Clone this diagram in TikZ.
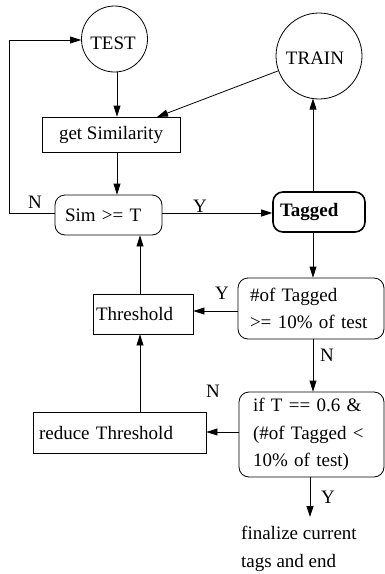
\documentclass[tikz,border=0pt]{standalone}
\usepackage{fontspec}
\setmainfont{Liberation Serif}
\usetikzlibrary{arrows.meta,calc}
\begin{document}
\begin{tikzpicture}[x=1pt,y=-1pt,
  every node/.style={font=\fontsize{19}{27.5}\selectfont},
  circ/.style={draw,circle,inner sep=0pt,line width=0.8pt},
  box/.style={draw,rectangle,inner ysep=0pt,line width=0.8pt,align=left},
  rbox/.style={box,rounded corners=10pt},
  arr/.style={-{Triangle[length=11pt,width=7pt]},line width=0.8pt},
  lbl/.style={inner sep=0pt}]
\useasboundingbox (0,0) rectangle (385,574);
% nodes
\node[circ,minimum size=66pt] (test) at (114.5,39) {};
\node at (113,43) (testtxt) {TEST};
\node[circ,minimum size=86pt] (train) at (319,56) {};
\node at (315,58) (traintxt) {TRAIN};
\node[box,minimum width=138pt,minimum height=35pt,inner xsep=0pt,align=center] (gs) at (111,134.5) {get Similarity};
\node[rbox,text width=87pt,inner xsep=10pt,minimum height=40pt] (sim) at (108.5,215) {Sim >= T};
\node[rbox,text width=78pt,inner xsep=7pt,minimum height=40pt,line width=1.6pt,font=\fontsize{19}{27.5}\selectfont\bfseries] (tagged) at (319,212) {Tagged};
\node[rbox,text width=122pt,inner xsep=12pt,minimum height=61pt] (num) at (311,308.5) {\#of Tagged\\>= 10\% of test};
\node[box,text width=94pt,inner xsep=3pt,minimum height=40pt] (thr) at (143,314) {Threshold};
\node[rbox,text width=117pt,inner xsep=14pt,minimum height=85pt] (ift) at (311.5,434.5) {if T == 0.6 \&\\(\#of Tagged <\\10\% of test)};
\node[box,text width=161pt,inner xsep=6pt,minimum height=41pt] (red) at (119.5,432.5) {reduce Threshold};
\node[anchor=west,align=left,inner sep=0pt] (fin) at (241,549) {finalize current\\tags and end};
% helper coordinates
\coordinate (gsin) at (157,117);
\coordinate (colA) at (117,0);
\coordinate (colB) at (313,0);
\coordinate (colC) at (310,0);
\coordinate (colD) at (140,0);
\coordinate (rowA) at (0,213);
\coordinate (rowB) at (0,311);
\coordinate (rowC) at (0,432);
\coordinate (loopL) at (9,213);
\coordinate (loopT) at (9,40);
\coordinate (finin) at (310,517);
% connectors
\draw[arr] (colA |- test.south) -- (colA |- gs.north);
\draw[arr] (train.200.6) -- (gsin);
\draw[arr] (colA |- gs.south) -- (colA |- sim.north);
\draw[arr] (sim.west |- rowA) -- (loopL) -- (loopT) -- (test.west |- loopT);
\draw[arr] (sim.east |- rowA) -- (tagged.west |- rowA);
\draw[arr] (colB |- tagged.north) -- (colB |- 0,98.6);
\draw[arr] (colB |- tagged.south) -- (colB |- num.north);
\draw[arr] (num.west |- rowB) -- (thr.east |- rowB);
\draw[arr] (colD |- thr.north) -- (colD |- sim.south);
\draw[arr] (colB |- num.south) -- (colB |- ift.north);
\draw[arr] (ift.west |- rowC) -- (red.east |- rowC);
\draw[arr] (colD |- red.north) -- (colD |- thr.south);
\draw[arr] (colC |- ift.south) -- (finin);
% labels
\node[lbl] (lN1) at (35,202) {N};
\node[lbl] (lY1) at (200,206) {Y};
\node[lbl] (lY2) at (222,293) {Y};
\node[lbl] (lN2) at (327,355) {N};
\node[lbl] (lN3) at (213,391) {N};
\node[lbl] (lY3) at (328,497) {Y};
\end{tikzpicture}
\end{document}
